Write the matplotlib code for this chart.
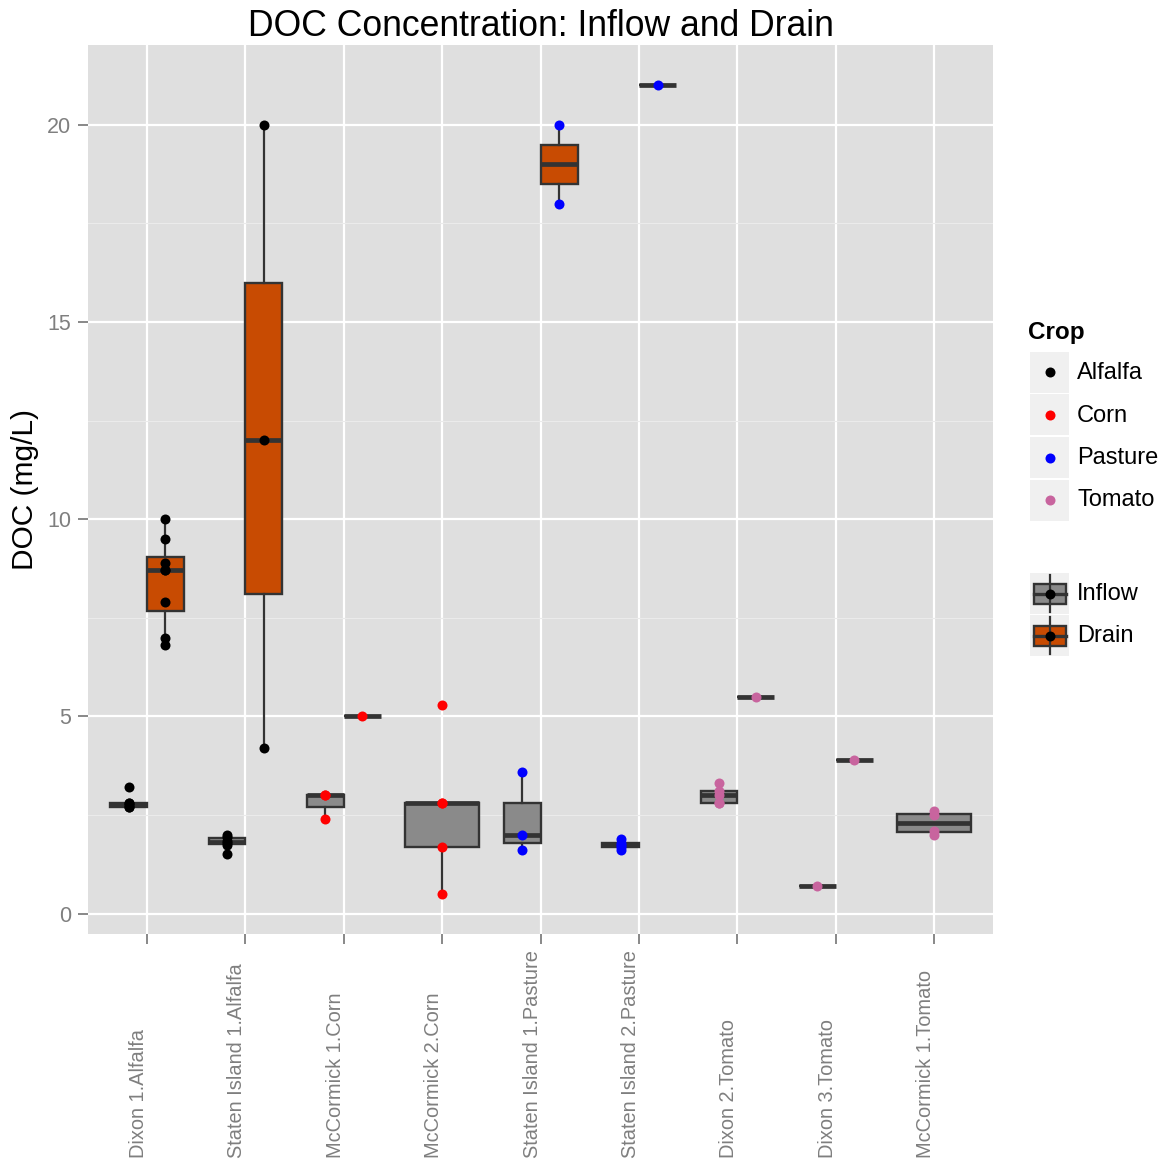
import numpy as np
import matplotlib
matplotlib.use("Agg")
import matplotlib.pyplot as plt
from matplotlib.patches import Rectangle
from matplotlib.lines import Line2D
from matplotlib.transforms import blended_transform_factory

plt.rcParams['font.family'] = ['Liberation Sans', 'DejaVu Sans']

# sites along the x axis
sites = ["Dixon 1.Alfalfa", "Staten Island 1.Alfalfa", "McCormick 1.Corn",
         "McCormick 2.Corn", "Staten Island 1.Pasture", "Staten Island 2.Pasture",
         "Dixon 2.Tomato", "Dixon 3.Tomato", "McCormick 1.Tomato"]
site_crop = ["Alfalfa", "Alfalfa", "Corn", "Corn", "Pasture", "Pasture",
             "Tomato", "Tomato", "Tomato"]

# DOC samples (mg/L) per site; None where no sample of that type
inflow_doc = [
    [2.7, 2.7, 2.75, 2.8, 2.8, 3.2],
    [1.5, 1.75, 1.8, 1.85, 1.95, 2.0],
    [2.4, 3.0, 3.0],
    [0.5, 1.7, 2.8, 2.8, 5.3],
    [1.6, 2.0, 3.6],
    [1.6, 1.7, 1.75, 1.8, 1.9],
    [2.8, 2.8, 3.0, 3.1, 3.3],
    [0.7],
    [2.0, 2.1, 2.5, 2.6],
]
drain_doc = [
    [6.8, 7.0, 7.9, 8.7, 8.7, 8.9, 9.5, 10.0],
    [4.2, 12.0, 20.0],
    [5.0],
    None,
    [18.0, 20.0],
    [21.0],
    [5.5],
    [3.9],
    None,
]

crops = ["Alfalfa", "Corn", "Pasture", "Tomato"]
crop_colors = {"Alfalfa": "black", "Corn": "#FF0000", "Pasture": "#0000FF",
               "Tomato": "#C8649E"}
types = ["Inflow", "Drain"]
type_fill = {"Inflow": "#8A8A8A", "Drain": "#C84B02"}

W, H = 1164, 1162
fig = plt.figure(figsize=(W / 100, H / 100), dpi=100)
L, R, T, B = 88, 993.3, 45, 934.3
ax = fig.add_axes([L / W, 1 - B / H, (R - L) / W, (B - T) / H])
ax.set_facecolor("#DFDFDF")

edge = "#333333"
all_vals = []
for i, site in enumerate(sites):
    groups = [(t, v) for t, v in zip(types, [inflow_doc[i], drain_doc[i]]) if v is not None]
    n = len(groups)
    w = 0.75 / n
    for j, (t, vals) in enumerate(groups):
        pos = i + 1 - 0.375 + w * (j + 0.5)
        all_vals += vals
        ax.boxplot([vals], positions=[pos], widths=w, whis=1.5, showfliers=False,
                   showcaps=False, patch_artist=True, manage_ticks=False,
                   boxprops=dict(facecolor=type_fill[t], edgecolor=edge, linewidth=1.7),
                   whiskerprops=dict(color=edge, linewidth=1.6),
                   medianprops=dict(color=edge, linewidth=3.4, solid_capstyle="butt"),
                   zorder=3)
        ax.plot([pos] * len(vals), vals, "o", color=crop_colors[site_crop[i]],
                markersize=7.2, markeredgewidth=0, zorder=4)

lo, hi = min(all_vals), max(all_vals)
pad = 0.05 * (hi - lo)
ax.set_ylim(lo - pad, hi + pad)
ax.set_xlim(0.4, len(sites) + 0.6)

ax.set_yticks([0, 5, 10, 15, 20])
ax.set_yticks([2.5, 7.5, 12.5, 17.5], minor=True)
ax.set_xticks(range(1, len(sites) + 1))
ax.set_xticklabels([])
ax.grid(which="major", color="white", linewidth=1.6, zorder=0)
ax.grid(which="minor", axis="y", color="#EBEBEB", linewidth=0.8, zorder=0)
ax.set_axisbelow(True)
for s in ax.spines.values():
    s.set_visible(False)
ax.tick_params(which="major", length=7, width=1.3, color="#7F7F7F",
               labelcolor="#7F7F7F", labelsize=15.5, pad=5)
ax.tick_params(which="minor", length=0)


def fx(x):
    return x / W


def fy(y):
    return 1 - y / H


# site labels, rotated and bottom aligned
tr = blended_transform_factory(ax.transData, fig.transFigure)
for i, site in enumerate(sites):
    ax.text(i + 1 + 0.01, fy(1158), site, rotation=90, ha="right", va="bottom",
            fontsize=14.4, color="#7F7F7F", transform=tr)

fig.text(fx(540.5), fy(26), "DOC Concentration: Inflow and Drain", fontsize=25.6,
         ha="center", va="center")
fig.text(fx(25), fy(490), "DOC (mg/L)", fontsize=21.5, rotation=90,
         ha="center", va="center")

# crop legend
fig.text(fx(1028), fy(333), "Crop", fontsize=17.5, fontweight="bold", va="center")
key_top = 352
for k, crop in enumerate(crops):
    y0 = key_top + k * 42.5
    fig.patches.append(Rectangle((fx(1030), fy(y0 + 41)), 39 / W, 41 / H,
                                 transform=fig.transFigure, facecolor="#F0F0F0",
                                 edgecolor="none"))
    fig.lines.append(Line2D([fx(1050)], [fy(y0 + 20.5)], marker="o", markersize=7.2,
                            color=crop_colors[crop], markeredgewidth=0,
                            transform=fig.transFigure))
    fig.text(fx(1077), fy(y0 + 21), crop, fontsize=17, va="center")

# type legend with boxplot glyphs
key_top = 573
for k, t in enumerate(types):
    y0 = key_top + k * 42
    cx, cy = 1050, y0 + 20.5
    fig.patches.append(Rectangle((fx(1030), fy(y0 + 41)), 39 / W, 41 / H,
                                 transform=fig.transFigure, facecolor="#F0F0F0",
                                 edgecolor="none"))
    fig.lines.append(Line2D([fx(cx), fx(cx)], [fy(y0 + 2), fy(y0 + 39)], color=edge,
                            linewidth=1.6, transform=fig.transFigure))
    fig.patches.append(Rectangle((fx(1034), fy(cy + 10)), 32 / W, 20 / H,
                                 transform=fig.transFigure, facecolor=type_fill[t],
                                 edgecolor=edge, linewidth=1.7))
    fig.lines.append(Line2D([fx(1034), fx(1066)], [fy(cy), fy(cy)], color=edge,
                            linewidth=2.4, transform=fig.transFigure))
    fig.lines.append(Line2D([fx(cx)], [fy(cy)], marker="o", markersize=7.2, color="black",
                            markeredgewidth=0, transform=fig.transFigure))
    fig.text(fx(1077), fy(cy + 1), t, fontsize=17, va="center")

fig.savefig("out.png", dpi=100)
